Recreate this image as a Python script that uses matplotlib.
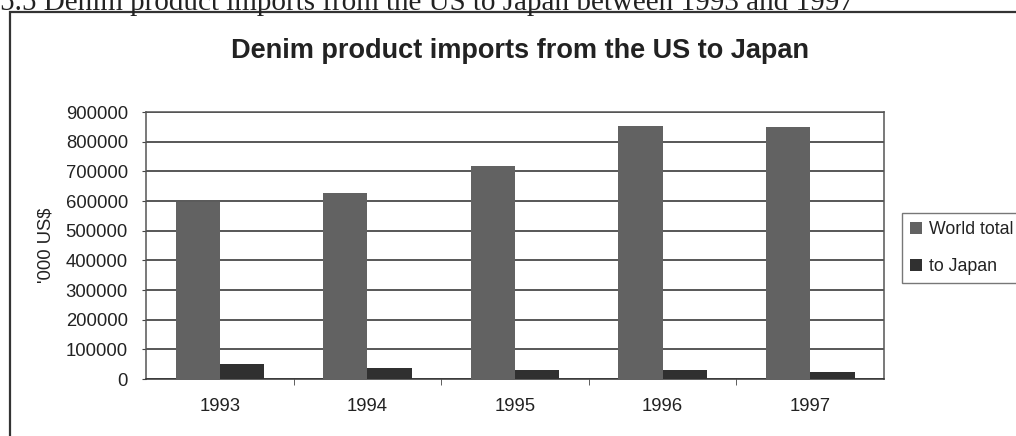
import numpy as np
import matplotlib.pyplot as plt
from matplotlib.patches import Rectangle

# denim imports, '000 US$
years = ['1993', '1994', '1995', '1996', '1997']
world_total = [596000, 628000, 718000, 852000, 850000]
to_japan = [50000, 37000, 32000, 30000, 24000]

plt.rcParams['font.family'] = 'Liberation Sans'

fig = plt.figure(figsize=(10.16, 4.36), dpi=100)
ax = fig.add_axes([0.1437, 0.1307, 0.7264, 0.6124])

x = np.arange(len(years))
w = 0.30
ax.bar(x - w / 2, world_total, w, color='#626262', label='World total', zorder=3)
ax.bar(x + w / 2, to_japan, w, color='#303030', label='to Japan', zorder=3)

ax.set_xlim(-0.5, len(years) - 0.5)
ax.set_ylim(0, 900000)
ax.set_yticks(np.arange(0, 900001, 100000))
ax.yaxis.grid(True, color='#4a4a4a', lw=1.3, zorder=1)
ax.set_axisbelow(True)

# year labels at the centres, tick marks between groups
ax.set_xticks(x)
ax.set_xticklabels(years, fontsize=13.3, color='#222222')
ax.tick_params(axis='x', length=0, pad=14)
ax.set_xticks(np.arange(0.5, len(years) - 0.5), minor=True)
ax.tick_params(axis='x', which='minor', length=4, color='#444444')
ax.tick_params(axis='y', labelsize=13.3, labelcolor='#222222', length=3, color='#444444', pad=10)

for s in ax.spines.values():
    s.set_color('#555555')
    s.set_linewidth(1.1)
ax.spines['bottom'].set_color('#333333')

ax.set_ylabel("'000 US$", fontsize=13.3, color='#222222', labelpad=8)

fig.text(0.512, 0.882, 'Denim product imports from the US to Japan',
         ha='center', va='center', fontsize=19.5, fontweight='bold', color='#222222')

leg = ax.legend(loc='upper left', bbox_to_anchor=(902 / 1016, 1 - 213 / 436),
                bbox_transform=fig.transFigure, fontsize=12.8, frameon=True,
                fancybox=False, edgecolor='#555555', handlelength=0.65,
                handleheight=0.65, handletextpad=0.4, labelspacing=1.15,
                borderpad=0.45, borderaxespad=0)
leg.get_frame().set_linewidth(1.0)
for t in leg.get_texts():
    t.set_color('#222222')

# outer chart border and the caption line above it
fig.patches.append(Rectangle((10 / 1016, -0.2), 1.2, 1.2 - 12 / 436,
                             transform=fig.transFigure, fill=False,
                             edgecolor='#333333', lw=1.6))
fig.text(0.0, 1 - 10 / 436, '5.5 Denim product imports from the US to Japan between 1993 and 1997',
         ha='left', va='baseline', fontsize=21, family='Liberation Serif', color='#222222')

fig.savefig('out.png', dpi=100)
